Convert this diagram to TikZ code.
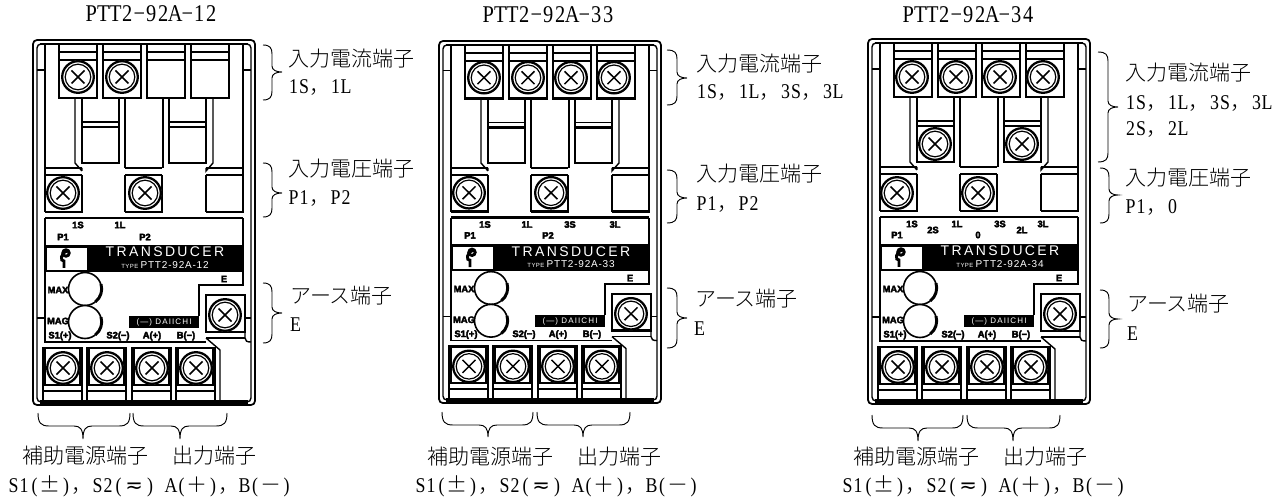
\documentclass[tikz,border=0pt]{standalone}
\usepackage{fontspec}
\setmainfont{Liberation Serif}
\newfontfamily\latf[FakeStretch=0.85]{Liberation Serif}
\newfontfamily\cjkf{Noto Sans CJK JP Light}
\newfontfamily\dvf{DejaVu Sans}
\newfontfamily\sansf{Liberation Sans}
\newfontfamily\smudgef[FakeBold=4]{Liberation Sans Bold}
\newfontfamily\bandf[LetterSpace=17]{Liberation Sans}
\newfontfamily\typef[LetterSpace=8]{Liberation Sans}
\newfontfamily\daif[LetterSpace=14]{Liberation Sans}
\makeatletter
\def\hwa#1{\ifx#1\relax\else\ifx#1~\hbox to .5em{}\else\hbox to .5em{\hss#1\hss}\fi\expandafter\hwa\fi}
\newcommand\hw[1]{{\latf\hwa#1\relax}}
\newcommand\fw[1]{\hbox to 1em{\hss{\cjkf #1}\hss}}
\makeatother
\newcommand\comma{\hbox to 1em{{\cjkf ，}\hss}}
\newcommand\srow{\hw{S1(}\fw{±}\hw{)}\comma\hw{S2(}\hbox to 1em{\hss{\dvf ≂}\hss}\hw{)~A(}\fw{＋}\hw{)}\comma\hw{B(}\fw{－}\hw{)}}
\tikzset{
 x=.75pt,y=-.75pt,
 ln/.style={line width=1.05pt},
 th/.style={line width=1.8pt},
 lbl/.style={inner sep=0pt,anchor=west,font=\fontsize{15.75}{18}\selectfont,text height=.72em,text depth=.2em},
 ttl/.style={inner sep=0pt,anchor=west,font=\fontsize{18}{20}\selectfont,text height=.72em,text depth=.2em},
 brc/.style={line width=.7pt},
 tiny/.style={inner sep=0pt,font=\smudgef\fontsize{7}{7}\selectfont},
}
\newcommand\screw[2]{%
 \fill[white] (#1,#2) circle (16.5);
 \draw[line width=1.7pt] (#1,#2) circle (15.8);
 \draw[line width=.9pt] (#1,#2) circle (12.8);
 \draw[line width=1.1pt] (#1-6.5,#2-6.5) -- (#1+6.5,#2+6.5) (#1-6.5,#2+6.5) -- (#1+6.5,#2-6.5);
}
\newcommand\topterm[1]{%
 \draw[ln] (#1,44) -- (#1,98) (#1+38,44) -- (#1+38,98) (#1,52) -- (#1+38,52);
 \draw[th] (#1,60) -- (#1+38,60) (#1,60) -- (#1,98) (#1+38,60) -- (#1+38,98);
 \draw[line width=2.2pt] (#1-1,98) -- (#1+39,98);
}
\newcommand\midterm[1]{%
 \draw[ln] (#1,98) -- (#1,127) (#1+37,98) -- (#1+37,127) (#1,122) -- (#1+37,122);
 \draw[th] (#1,127) -- (#1+37,127) -- (#1+37,163) -- (#1,163) -- cycle;
}
\newcommand\lowterm[1]{%
 \draw[ln] (#1,168) -- (#1+37,168);
 \draw[th] (#1,175) -- (#1+37,175) (#1,175) -- (#1,212) (#1+37,175) -- (#1+37,212);
 \draw[line width=2.2pt] (#1-.5,212) -- (#1+37.5,212);
}
\newcommand\botterm[1]{%
 \draw[th] (#1,402) -- (#1,348) -- (#1+39,348) -- (#1+39,402);
 \draw[ln] (#1+2,348) -- (#1+2,385) (#1+37,348) -- (#1+37,385);
 \draw[th] (#1,385) -- (#1+39,385);
 \draw[ln] (#1,391) -- (#1+39,391);
 \screw{#1+20}{368}
}
\newcommand\base[1]{%
 \draw[line width=1.3pt,rounded corners=3] (33,40) rectangle (255,405);
 \draw[ln,rounded corners=3] (37,44) rectangle (251,402);
 \draw[line width=2pt] (40,44) -- (248,44);
 \draw[line width=2.6pt] (40,402) -- (248,402);
 \draw[ln] (37,70) -- (45,70) (243,70) -- (251,70) (37,318) -- (45,318) (245,318) -- (251,318);
 \draw[ln] (45,44) -- (45,212) (243,44) -- (243,212);
 \foreach \xx in {59,103,147,191} {\topterm{\xx}}
 \midterm{82} \midterm{169}
 \draw[ln] (75,98) -- (75,163) -- (82,171) (82,171) -- (82,168);
 \draw[ln] (213,98) -- (213,163) -- (206,171) -- (206,168);
 \draw[th] (125,98) -- (125,168) (163,98) -- (163,168);
 \lowterm{45} \lowterm{125} \lowterm{206}
 \draw[th] (45,218) -- (243,218);
 \draw[ln] (45,218) -- (45,342) -- (206,342) (243,218) -- (243,285) -- (199,285) -- (199,316);
 \fill (45,245) rectangle (243,272);
 \fill[white] (47,248) rectangle (87,270);
 \draw[line width=2.2pt] (66,253) circle (3.2);
 \draw[line width=2.2pt] (68,251) .. controls (60,252) and (60,262) .. (64,261) -- (64,268);
 \node[inner sep=0pt,text=white,font=\bandf\fontsize{10.5}{11}\selectfont] (band) at (165,252) {TRANSDUCER};
 \node[inner sep=0pt,text=white,font=\typef\fontsize{7.5}{8}\selectfont] (type) at (165,265) {{\fontsize{4.5}{5}\selectfont TYPE }#1};
 \fill (129,316) rectangle (199,328);
 \node[inner sep=0pt,text=white,font=\daif\fontsize{6}{6}\selectfont] (dai) at (164,322.5) {(—) DAIICHI};
 \foreach \yy in {289,322} {
  \draw[white,fill=white] (85,\yy) circle (16.5);
  \draw[line width=1.2pt] (85,\yy) circle (16.5);
 }
 \draw[line width=2.2pt] (101,284) arc (-17:52:16.5);
 \draw[line width=2.2pt] (101,317) arc (-17:52:16.5);
 \node[tiny] (mx) at (58,290) {MAX};
 \node[tiny] (mg) at (58,321) {MAG};
 \node[tiny] (s1) at (60,336) {S1(+)};
 \node[tiny] (s2) at (118,336) {S2(−)};
 \node[tiny] (aa) at (152,336) {A(+)};
 \node[tiny] (bb) at (186,336) {B(−)};
 \node[tiny] (ee) at (224,279) {E};
 \draw[ln] (206,338) -- (220,350) -- (220,402);
 \draw[ln] (206,338) -- (245,338);
 \draw[th] (206,295) -- (245,295) -- (245,332) -- (206,332) -- cycle;
 \draw[ln] (245,332) -- (245,338) .. controls (245,341) and (247,342) .. (251,342);
 \screw{225}{315}
 \foreach \xx in {43,87,132,176} {\botterm{\xx}}
}
\newcommand\vbrace[6]{% x0 xm xt y0 ym y1
 \draw[brc] (#1,#4) .. controls (#2-2,#4) and (#2,#4+3) .. (#2,#4+9) -- (#2,#5-6) .. controls (#2,#5-2) and (#2+4,#5) .. (#3,#5)
  .. controls (#2+4,#5) and (#2,#5+2) .. (#2,#5+6) -- (#2,#6-9) .. controls (#2,#6-3) and (#2-2,#6) .. (#1,#6);
}
\newcommand\hbrace[6]{% x0 tx x1 y0 ym ty
 \draw[brc] (#1,#4) .. controls (#1,#5-3) and (#1+3,#5) .. (#1+11,#5) -- (#2-9,#5) .. controls (#2-3,#5) and (#2,#5+3) .. (#2,#6)
  .. controls (#2,#5+3) and (#2+3,#5) .. (#2+9,#5) -- (#3-11,#5) .. controls (#3-3,#5) and (#3,#5-3) .. (#3,#4);
}
\begin{document}
\begin{tikzpicture}
\useasboundingbox (0,0) rectangle (1272,499);
\fill[white] (0,0) rectangle (1272,499);
% device 1
\begin{scope}
 \base{PTT2-92A-12}
 \screw{78}{77} \screw{122}{77}
 \screw{63}{193} \screw{145}{193}
 \node[tiny] at (78,225) {1S}; \node[tiny] at (120,225) {1L};
 \node[tiny] at (63,237) {P1}; \node[tiny] at (145,237) {P2};
\end{scope}
% device 2
\begin{scope}[shift={(406,1.32)},yscale=.992]
 \base{PTT2-92A-33}
 \screw{78}{77} \screw{122}{77} \screw{165}{77} \screw{208}{77}
 \screw{63}{193} \screw{145}{193}
 \node[tiny] at (79,225) {1S}; \node[tiny] at (121,225) {1L};
 \node[tiny] at (164,225) {3S}; \node[tiny] at (209,225) {3L};
 \node[tiny] at (64,236) {P1}; \node[tiny] at (142,236) {P2};
\end{scope}
% device 3
\begin{scope}[shift={(835,-1)}]
 \base{PTT2-92A-34}
 \screw{77}{78} \screw{121}{78} \screw{165}{78} \screw{208}{78}
 \screw{100}{145} \screw{187}{145}
 \screw{62}{194} \screw{143}{194}
 \node[tiny] at (77,225) {1S}; \node[tiny] at (98,231) {2S}; \node[tiny] at (122,225) {1L};
 \node[tiny] at (143,236) {0}; \node[tiny] at (165,225) {3S}; \node[tiny] at (187,231) {2L};
 \node[tiny] at (208,225) {3L}; \node[tiny] at (62,236) {P1};
\end{scope}
% titles
\node[ttl] (t1) at (85,18) {\hw{PTT2−92A−12}};
\node[ttl] (t2) at (482,19) {\hw{PTT2−92A−33}};
\node[ttl] (t3) at (902,19) {\hw{PTT2−92A−34}};
% device 1 labels
\vbrace{263}{272}{282}{45}{72}{100}
\vbrace{263}{272}{282}{163}{193}{217}
\vbrace{263}{272}{282}{283}{313}{343}
\node[lbl] (a1) at (288,63) {\cjkf 入力電流端子};
\node[lbl] (a2) at (288,90) {\hw{1S}\comma\hw{1L}};
\node[lbl] (a3) at (288,173) {\cjkf 入力電圧端子};
\node[lbl] (a4) at (288,201) {\hw{P1}\comma\hw{P2}};
\node[lbl] (a5) at (290,300) {\cjkf アース端子};
\node[lbl] (a6) at (290,328) {\hw{E}};
% device 2 labels
\vbrace{667}{677}{687}{50}{78}{105}
\vbrace{667}{677}{687}{170}{198}{223}
\vbrace{667}{677}{687}{288}{318}{348}
\node[lbl] (b1) at (696,68) {\cjkf 入力電流端子};
\node[lbl] (b2) at (696,95) {\hw{1S}\comma\hw{1L}\comma\hw{3S}\comma\hw{3L}};
\node[lbl] (b3) at (696,178) {\cjkf 入力電圧端子};
\node[lbl] (b4) at (696,207) {\hw{P1}\comma\hw{P2}};
\node[lbl] (b5) at (695,303) {\cjkf アース端子};
\node[lbl] (b6) at (694,332) {\hw{E}};
% device 3 labels
\vbrace{1098}{1108}{1118}{52}{107}{162}
\vbrace{1100}{1109}{1118}{168}{195}{223}
\vbrace{1100}{1109}{1118}{290}{319}{348}
\node[lbl] (c1) at (1125,77) {\cjkf 入力電流端子};
\node[lbl] (c2) at (1125,106) {\hw{1S}\comma\hw{1L}\comma\hw{3S}\comma\hw{3L}};
\node[lbl] (c3) at (1125,132) {\hw{2S}\comma\hw{2L}};
\node[lbl] (c4) at (1125,182) {\cjkf 入力電圧端子};
\node[lbl] (c5) at (1125,210) {\hw{P1}\comma\hw{0}};
\node[lbl] (c6) at (1127,308) {\cjkf アース端子};
\node[lbl] (c7) at (1127,337) {\hw{E}};
% bottom braces
\hbrace{38}{83}{130}{413}{426}{439}
\hbrace{133}{180}{227}{413}{426}{439}
\hbrace{442}{488}{533}{412}{425}{437}
\hbrace{537}{583}{630}{412}{425}{437}
\hbrace{872}{918}{963}{415}{428}{441}
\hbrace{967}{1013}{1060}{415}{428}{441}
\node[lbl] (d1) at (22,460) {\cjkf 補助電源端子};
\node[lbl] (d2) at (172,460) {\cjkf 出力端子};
\node[lbl] (d3) at (8,489) {\srow};
\node[lbl] (e1) at (427,461) {\cjkf 補助電源端子};
\node[lbl] (e2) at (577,461) {\cjkf 出力端子};
\node[lbl] (e3) at (415,489) {\srow};
\node[lbl] (f1) at (853,461) {\cjkf 補助電源端子};
\node[lbl] (f2) at (1003,461) {\cjkf 出力端子};
\node[lbl] (f3) at (842,489) {\srow};
\end{tikzpicture}
\end{document}
